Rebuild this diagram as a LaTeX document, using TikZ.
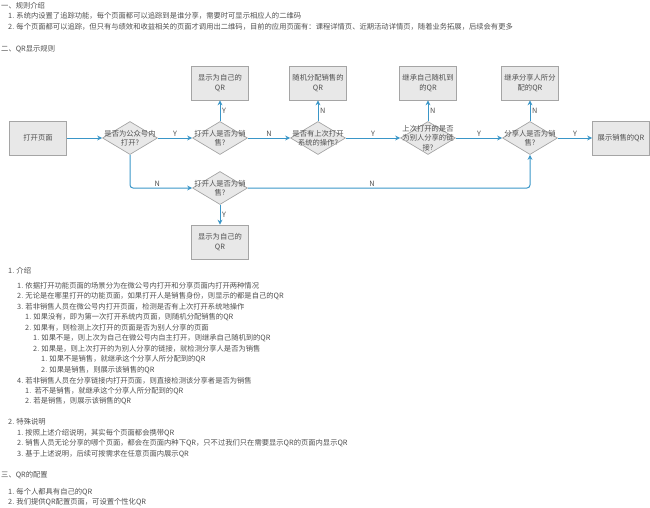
\documentclass[tikz,border=0pt]{standalone}
\usepackage{fontspec}
\setmainfont{Noto Sans CJK SC}
\usetikzlibrary{shapes.geometric,arrows.meta}
\definecolor{flowblue}{RGB}{58,150,200}
\definecolor{boxgray}{RGB}{232,232,232}
\definecolor{edgegray}{RGB}{165,165,165}
\definecolor{txtgray}{RGB}{80,80,80}
\tikzset{
	qrbox/.style={draw=edgegray, fill=boxgray, line width=0.7pt, minimum width=57pt, minimum height=34pt, inner sep=0pt, align=center, text=txtgray},
	qrdia/.style={diamond, draw=edgegray, fill=boxgray, line width=0.7pt, minimum width=55pt, minimum height=33pt, inner sep=0pt},
	diatext/.style={align=center, inner sep=0pt, text=txtgray},
	flow/.style={-{Stealth[length=5pt,width=5pt]}, line width=1pt, flowblue},
	yn/.style={text=txtgray, inner sep=1.5pt},
	txtline/.style={anchor=west, inner sep=0pt, text=txtgray}
}
\begin{document}
\begin{tikzpicture}[x=1pt, y=-1pt, font=\fontsize{7.3pt}{9.5pt}\selectfont]
			\useasboundingbox (0,0) rectangle (650,507);

			% rules
			\node (t1) [txtline] at (1,6) {一、规则介绍};
			\node (t2) [txtline] at (8,16) {1. 系统内设置了追踪功能，每个页面都可以追踪到是谁分享，需要时可显示相应人的二维码};
			\node (t3) [txtline] at (8,27) {2. 每个页面都可以追踪，但只有与绩效和收益相关的页面才调用出二维码，目前的应用页面有：课程详情页、近期活动详情页，随着业务拓展，后续会有更多};
			\node (t4) [txtline] at (1,49) {二、QR显示规则};

			% flow chart
			\node (open) [qrbox] at (38,138) {打开页面};
			\node (d1) [qrdia] at (130,138) {};
			\node (d2) [qrdia] at (220,138) {};
			\node (d3) [qrdia] at (318,138) {};
			\node (d4) [qrdia] at (428,138) {};
			\node (d5) [qrdia] at (530,138) {};
			\node (d6) [qrdia] at (220,188) {};
			\node (d1t) [diatext] at (d1) {是否为公众号内\\打开?};
			\node (d2t) [diatext] at (d2) {打开人是否为销\\售?};
			\node (d3t) [diatext] at (d3) {是否有上次打开\\系统的操作?};
			\node (d4t) [diatext] at (d4) {上次打开的是否\\为别人分享的链\\接?};
			\node (d5t) [diatext] at (d5) {分享人是否为销\\售?};
			\node (d6t) [diatext] at (d6) {打开人是否为销\\售?};

			\node (q2) [qrbox] at (220,83) {显示为自己的\\QR};
			\node (q3) [qrbox] at (318,83) {随机分配销售的\\QR};
			\node (q4) [qrbox] at (428,83) {继承自己随机到\\的QR};
			\node (q5) [qrbox] at (530,83) {继承分享人所分\\配的QR};
			\node (q6) [qrbox] at (220,242) {显示为自己的\\QR};
			\node (show) [qrbox] at (621,138) {展示销售的QR};

			\draw [flow] (open) -- (d1);
			\draw [flow] (d1) -- node [yn, above] {Y} (d2);
			\draw [flow] (d2) -- node [yn, above] {N} (d3);
			\draw [flow] (d3) -- node [yn, above] {Y} (d4);
			\draw [flow] (d4) -- node [yn, above] {Y} (d5);
			\draw [flow] (d5) -- node [yn, above] {Y} (show);
			\draw [flow] (d2) -- node [yn, right] {Y} (q2);
			\draw [flow] (d3) -- node [yn, right] {N} (q3);
			\draw [flow] (d4) -- node [yn, right] {N} (q4);
			\draw [flow] (d5) -- node [yn, right] {N} (q5);
			\draw [flow] (d6) -- node [yn, right] {Y} (q6);
			\draw [flow, rounded corners=3pt] (d1.south) |- node [yn, above, pos=0.72] {N} (d6.west);
			\draw [flow, rounded corners=3pt] (d6.east) -| node [yn, above, pos=0.22] {N} (d5.south);

			% notes
			\node (n1) [txtline] at (8,271) {1. 介绍};
			\node (n2) [txtline] at (17,286) {1. 依据打开功能页面的场景分为在微公号内打开和分享页面内打开两种情况};
			\node (n3) [txtline] at (17,296.5) {2. 无论是在哪里打开的功能页面，如果打开人是销售身份，则显示的都是自己的QR};
			\node (n4) [txtline] at (17,307) {3. 若非销售人员在微公号内打开页面，检测是否有上次打开系统地操作};
			\node (n5) [txtline] at (25,317.5) {1. 如果没有，即为第一次打开系统内页面，则随机分配销售的QR};
			\node (n6) [txtline] at (25,328) {2. 如果有，则检测上次打开的页面是否为别人分享的页面};
			\node (n7) [txtline] at (33,338.5) {1. 如果不是，则上次为自己在微公号内自主打开，则继承自己随机到的QR};
			\node (n8) [txtline] at (33,349) {2. 如果是，则上次打开的为别人分享的链接，就检测分享人是否为销售};
			\node (n9) [txtline] at (41,359.5) {1. 如果不是销售，就继承这个分享人所分配到的QR};
			\node (n10) [txtline] at (41,370) {2. 如果是销售，则展示该销售的QR};
			\node (n11) [txtline] at (17,380.5) {4. 若非销售人员在分享链接内打开页面，则直接检测该分享者是否为销售};
			\node (n12) [txtline] at (25,391) {1.\ \ 若不是销售，就继承这个分享人所分配到的QR};
			\node (n13) [txtline] at (25,401.5) {2. 若是销售，则展示该销售的QR};
			\node (n14) [txtline] at (8,422) {2. 特殊说明};
			\node (n15) [txtline] at (17,433) {1. 按照上述介绍说明，其实每个页面都会携带QR};
			\node (n16) [txtline] at (17,443.5) {2. 销售人员无论分享的哪个页面，都会在页面内种下QR，只不过我们只在需要显示QR的页面内显示QR};
			\node (n17) [txtline] at (17,454) {3. 基于上述说明，后续可按需求在任意页面内展示QR};

			% config
			\node (c1) [txtline] at (1,475) {三、QR的配置};
			\node (c2) [txtline] at (8,492) {1. 每个人都具有自己的QR};
			\node (c3) [txtline] at (8,502) {2. 我们提供QR配置页面，可设置个性化QR};
\end{tikzpicture}
\end{document}
